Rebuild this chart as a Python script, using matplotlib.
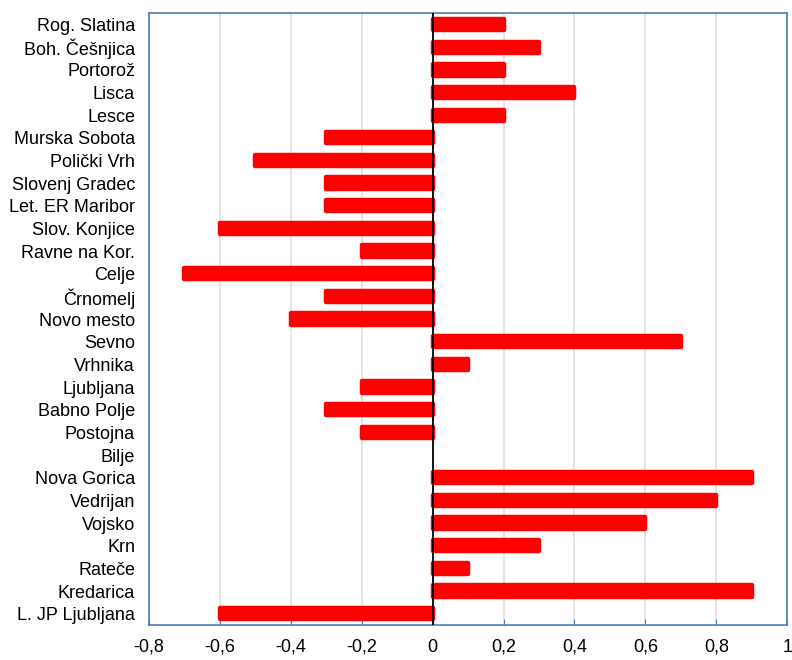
import matplotlib
matplotlib.use("Agg")
import matplotlib.pyplot as plt
from matplotlib.ticker import FuncFormatter

stations = [
    "Rog. Slatina", "Boh. Češnjica", "Portorož", "Lisca", "Lesce",
    "Murska Sobota", "Polički Vrh", "Slovenj Gradec", "Let. ER Maribor",
    "Slov. Konjice", "Ravne na Kor.", "Celje", "Črnomelj", "Novo mesto",
    "Sevno", "Vrhnika", "Ljubljana", "Babno Polje", "Postojna", "Bilje",
    "Nova Gorica", "Vedrijan", "Vojsko", "Krn", "Rateče", "Kredarica",
    "L. JP Ljubljana",
]
values = [
    0.2, 0.3, 0.2, 0.4, 0.2,
    -0.3, -0.5, -0.3, -0.3,
    -0.6, -0.2, -0.7, -0.3, -0.4,
    0.7, 0.1, -0.2, -0.3, -0.2, None,
    0.9, 0.8, 0.6, 0.3, 0.1, 0.9,
    -0.6,
]
xticks = [-0.8, -0.6, -0.4, -0.2, 0, 0.2, 0.4, 0.6, 0.8, 1.0]

plt.rcParams["font.family"] = ["Liberation Sans", "DejaVu Sans"]

fig = plt.figure(figsize=(7.92, 6.6), dpi=100)
ax = fig.add_axes([0.188, 0.053, 0.806, 0.927])

ypos = list(range(len(stations)))
for y, v in zip(ypos, values):
    if v is None:
        continue
    # thick round-joined edge gives the rounded bar ends
    ax.barh(y, v, height=0.5, color="#ff0000", edgecolor="#ff0000",
            linewidth=3.2, joinstyle="round", zorder=3)

ax.axvline(0, color="black", linewidth=1.3, zorder=4)

ax.set_xlim(-0.8, 1.0)
ax.set_ylim(len(stations) - 0.5, -0.5)
ax.set_yticks(ypos)
ax.set_yticklabels(stations, fontsize=13)
ax.tick_params(axis="y", length=0, pad=10)
ax.set_xticks(xticks)
ax.xaxis.set_major_formatter(FuncFormatter(
    lambda x, _: ("%g" % round(x, 1)).replace(".", ",")))
ax.tick_params(axis="x", length=4, direction="in", color="#4a7ebb",
               labelsize=13, pad=10)
ax.grid(axis="x", color="#e0e0e0", linewidth=1.2, zorder=0)
ax.set_axisbelow(True)

for s in ax.spines.values():
    s.set_color("#4a7ebb")
    s.set_linewidth(1.2)

fig.savefig("out.png", dpi=100)
